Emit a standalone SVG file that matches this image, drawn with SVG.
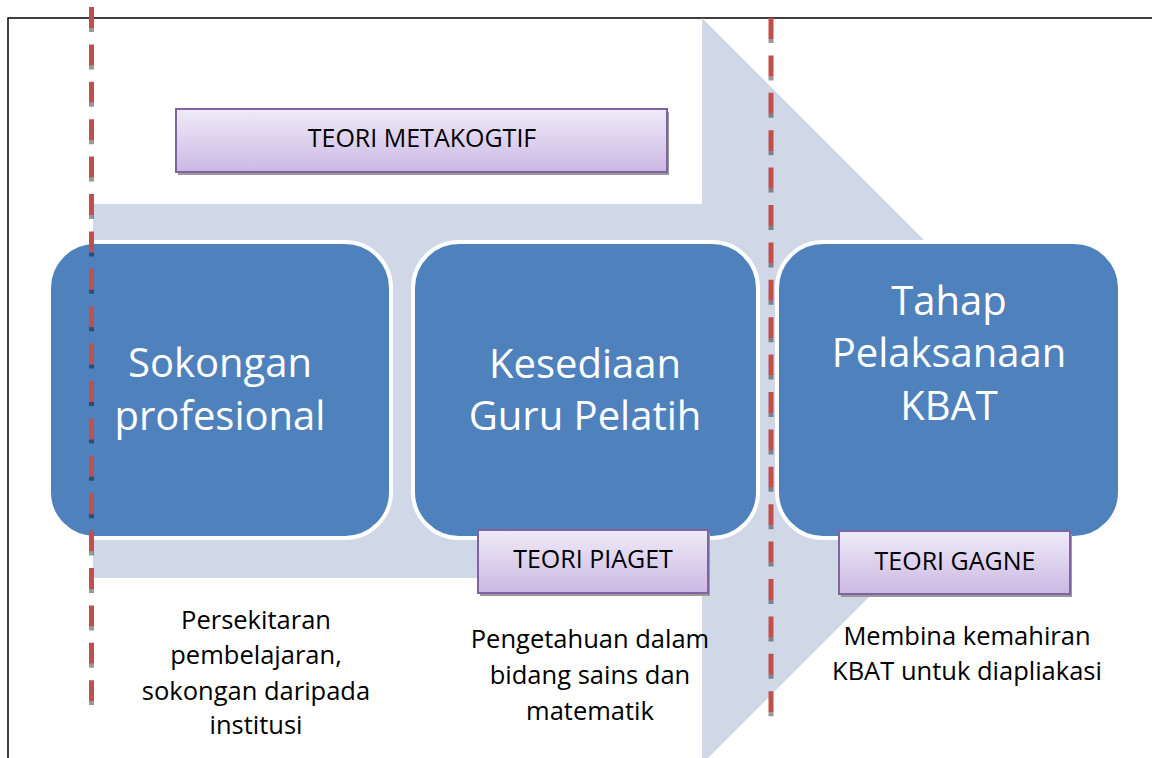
<svg xmlns="http://www.w3.org/2000/svg" width="1152" height="758" viewBox="0 0 1152 758">
  <defs>
    <linearGradient id="lilac" x1="0" y1="0" x2="0" y2="1">
      <stop offset="0" stop-color="#EFEBF8"/>
      <stop offset="1" stop-color="#CBB8E3"/>
    </linearGradient>
  </defs>
  <style>
    .stage { fill: #4F81BD; stroke: #FFFFFF; stroke-width: 4; }
    .stage-text { font-family: "Open Sans", "Liberation Sans", sans-serif; font-size: 40px; fill: #FFFFFF; text-anchor: middle; }
    .theory { fill: url(#lilac); stroke: #8064A2; stroke-width: 2; }
    .shadow { fill: #9A9A9A; }
    .theory-text { font-family: "Open Sans", "Liberation Sans", sans-serif; font-size: 25px; fill: #000000; text-anchor: middle; }
    .note { font-family: "Open Sans", "Liberation Sans", sans-serif; font-size: 25.5px; fill: #000000; text-anchor: middle; }
    .dash-red { stroke: #C0504D; stroke-width: 5; stroke-dasharray: 21 16.4; fill: none; }
    .dash-foot { stroke: #000000; stroke-opacity: 0.4; stroke-width: 5; stroke-dasharray: 4 33.4; stroke-dashoffset: -21; fill: none; }
  </style>

  <rect x="0" y="0" width="1152" height="758" fill="#FFFFFF"/>

  <!-- frame -->
  <path d="M8,758 V18 H1152" fill="none" stroke="#000" stroke-width="1.5"/>

  <!-- background process arrow -->
  <polygon id="process-arrow" points="93,204 702,204 702,18 1075,391 702,764 702,578 93,578" fill="#D0D8E7"/>

  <!-- stages -->
  <g id="stage-sokongan">
    <rect class="stage" x="49" y="242" width="342" height="296" rx="46" ry="46"/>
    <text class="stage-text" x="220" y="377">Sokongan</text>
    <text class="stage-text" x="220" y="430">profesional</text>
  </g>
  <g id="stage-kesediaan">
    <rect class="stage" x="413" y="242" width="345" height="296" rx="46" ry="46"/>
    <text class="stage-text" x="585" y="378">Kesediaan</text>
    <text class="stage-text" x="585" y="430">Guru Pelatih</text>
  </g>
  <g id="stage-tahap">
    <rect class="stage" x="777" y="242" width="343" height="296" rx="46" ry="46"/>
    <text class="stage-text" x="949" y="315">Tahap</text>
    <text class="stage-text" x="949" y="367">Pelaksanaan</text>
    <text class="stage-text" x="949" y="420">KBAT</text>
  </g>

  <!-- dashed dividers: red bars, each with a dark foot -->
  <g id="dividers">
    <line class="dash-red" x1="91.5" y1="7" x2="91.5" y2="705"/>
    <line class="dash-foot" x1="91.5" y1="7" x2="91.5" y2="705"/>
    <line class="dash-red" x1="771" y1="18" x2="771" y2="717"/>
    <line class="dash-foot" x1="771" y1="18" x2="771" y2="717"/>
  </g>

  <!-- theory labels -->
  <g id="teori-metakogtif">
    <rect class="shadow" x="178" y="112" width="491" height="63"/>
    <rect class="theory" x="176" y="109" width="491" height="63"/>
    <text class="theory-text" x="422" y="147">TEORI METAKOGTIF</text>
  </g>
  <g id="teori-piaget">
    <rect class="shadow" x="480" y="533" width="230" height="63"/>
    <rect class="theory" x="478" y="530" width="230" height="63"/>
    <text class="theory-text" x="593" y="568">TEORI PIAGET</text>
  </g>
  <g id="teori-gagne">
    <rect class="shadow" x="841" y="534" width="231" height="63"/>
    <rect class="theory" x="839" y="531" width="231" height="63"/>
    <text class="theory-text" x="955" y="570">TEORI GAGNE</text>
  </g>

  <!-- notes under each stage -->
  <g id="note-sokongan">
    <text class="note" x="256" y="629">Persekitaran</text>
    <text class="note" x="256" y="664">pembelajaran,</text>
    <text class="note" x="256" y="700">sokongan daripada</text>
    <text class="note" x="256" y="734">institusi</text>
  </g>
  <g id="note-kesediaan">
    <text class="note" x="590" y="648">Pengetahuan dalam</text>
    <text class="note" x="590" y="684">bidang sains dan</text>
    <text class="note" x="590" y="720">matematik</text>
  </g>
  <g id="note-tahap">
    <text class="note" x="967" y="645">Membina kemahiran</text>
    <text class="note" x="967" y="680">KBAT untuk diapliakasi</text>
  </g>
</svg>
